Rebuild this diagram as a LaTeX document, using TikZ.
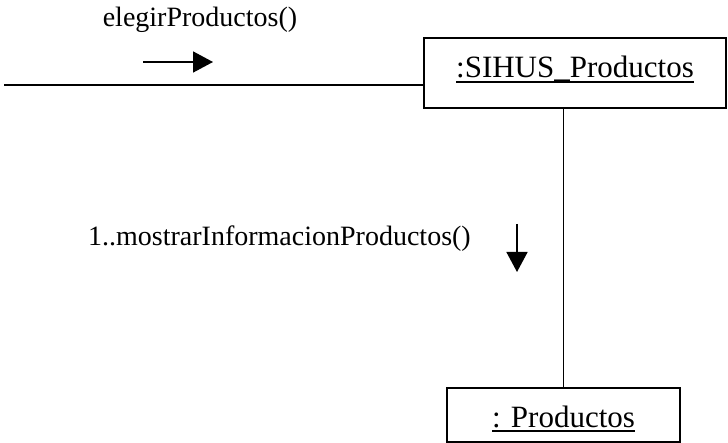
\documentclass[tikz,border=0pt]{standalone}
\usepackage{fontspec}
\setmainfont{Liberation Serif}
\usetikzlibrary{arrows.meta}
\newsavebox\ulbox
\newcommand\ulx[1]{\sbox\ulbox{#1}\rlap{\rule[-4.8pt]{\wd\ulbox}{1.5pt}}\usebox\ulbox}
\begin{document}
\begin{tikzpicture}[x=1pt,y=-1pt,
  objbox/.style={draw=black,line width=1.6pt,fill=white,inner sep=0pt,
    font=\fontsize{31}{35}\selectfont},
  msg/.style={inner sep=0pt,font=\fontsize{28}{32}\selectfont},
  link/.style={draw=black,line width=1.6pt},
  msgarrow/.style={draw=black,line width=1.6pt,-{Triangle[length=20pt,width=21pt]}}]
\useasboundingbox (0,0) rectangle (728,443);
\fill[white] (0,0) rectangle (728,443);
% objects
\node[objbox,minimum width=302pt,minimum height=70pt,text height=19pt,text depth=9pt]
  (sihus) at (575,73) {\ulx{:SIHUS\_Productos}};
\node[objbox,minimum width=233pt,minimum height=54pt,text height=30pt,text depth=6pt]
  (prod) at (563.5,415) {\ulx{: Productos}};
% links
\coordinate (actor) at (4,85);
\draw[link] (actor) -- (actor -| sihus.west);
\draw[link] (prod.north) -- (prod.north |- sihus.south);
% messages
\node[msg,anchor=base] (m0) at (200,27) {elegirProductos()};
\coordinate (a0s) at (143,62);
\coordinate (a0e) at (213,62);
\draw[msgarrow] (a0s) -- (a0e);
\node[msg,anchor=base west] (m1) at (88,246) {1..mostrarInformacionProductos()};
\coordinate (a1s) at (517,224);
\coordinate (a1e) at (517,272);
\draw[msgarrow] (a1s) -- (a1e);
\end{tikzpicture}
\end{document}
